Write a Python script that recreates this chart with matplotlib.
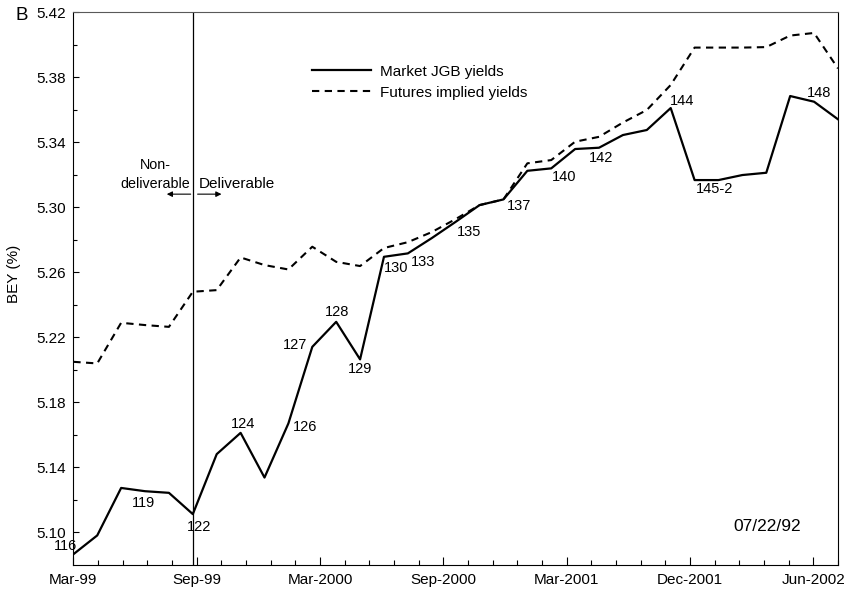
import numpy as np
import matplotlib.pyplot as plt

plt.rcParams['font.family'] = ['Liberation Sans', 'DejaVu Sans']

# BEY of each issue in the basket, ordered by maturity
market_jgb = [5.0866, 5.0982, 5.1274, 5.1254, 5.1244, 5.1113, 5.1482, 5.1613, 5.1338, 5.1671,
              5.2142, 5.2296, 5.2065, 5.2696, 5.2717, 5.2811, 5.2911, 5.3014, 5.3049, 5.3225,
              5.3240, 5.3359, 5.3367, 5.3445, 5.3476, 5.3611, 5.3168, 5.3168, 5.3199, 5.3213,
              5.3685, 5.3650, 5.3542]
futures_implied = [5.2050, 5.2040, 5.2290, 5.2276, 5.2265, 5.2481, 5.2491, 5.2692, 5.2645, 5.2618,
                   5.2758, 5.2665, 5.2639, 5.2750, 5.2786, 5.2848, 5.2928, 5.3014, 5.3049, 5.3271,
                   5.3291, 5.3404, 5.3434, 5.3522, 5.3599, 5.3753, 5.3983, 5.3983, 5.3983, 5.3986,
                   5.4057, 5.4073, 5.3855]

# issue numbers written next to some of the points
label_idx = [0, 3, 5, 7, 9, 10, 11, 12, 13, 14, 16, 18, 20, 22, 25, 26, 31]
bond_labels = ['116', '119', '122', '124', '126', '127', '128', '129', '130', '133',
               '135', '137', '140', '142', '144', '145-2', '148']
label_offsets = [(-8, 8), (-2, -12), (6, -13), (2, 9), (17, -4), (-17, 2), (1, 10), (0, -10),
                 (12, -11), (15, -9), (13, -10), (16, -7), (13, -9), (2, -10), (11, 7),
                 (20, -9), (5, 9)]

maturity_labels = ['Mar-99', 'Sep-99', 'Mar-2000', 'Sep-2000', 'Mar-2001', 'Dec-2001', 'Jun-2002']
first_deliverable = 5  # issue 122

x = np.arange(len(market_jgb))

fig = plt.figure(figsize=(8.46, 5.92), dpi=100)
ax = fig.add_axes([0.0867, 0.0456, 0.9038, 0.9336])

ax.plot(x, market_jgb, color='black', lw=1.6, label='Market JGB yields')
ax.plot(x, futures_implied, color='black', lw=1.5, ls=(0, (3.5, 2.6)), label='Futures implied yields')

for i, txt, off in zip(label_idx, bond_labels, label_offsets):
    ax.annotate(txt, (x[i], market_jgb[i]), xytext=off, textcoords='offset pixels',
                ha='center', va='center', fontsize=10.5)

# deliverable cut-off
ax.axvline(first_deliverable, color='black', lw=0.9)
ax.annotate('Non-\ndeliverable', (first_deliverable, 0.676), xycoords=('data', 'axes fraction'),
            xytext=(-3, 0), textcoords='offset pixels', ha='right', va='bottom',
            multialignment='center', fontsize=10.3, linespacing=1.45)
ax.annotate('Deliverable', (first_deliverable, 0.676), xycoords=('data', 'axes fraction'),
            xytext=(6, 0), textcoords='offset pixels', ha='left', va='bottom', fontsize=11)
arrow = dict(arrowstyle='-|>', color='black', lw=0.8, mutation_scale=8, shrinkA=0, shrinkB=0)
ax.annotate('', xy=(first_deliverable - 1.09, 0.671), xytext=(first_deliverable - 0.09, 0.671),
            xycoords=('data', 'axes fraction'), textcoords=('data', 'axes fraction'), arrowprops=arrow)
ax.annotate('', xy=(first_deliverable + 1.2, 0.671), xytext=(first_deliverable + 0.2, 0.671),
            xycoords=('data', 'axes fraction'), textcoords=('data', 'axes fraction'), arrowprops=arrow)

ax.text(0.908, 0.0705, '07/22/92', transform=ax.transAxes, ha='center', va='center', fontsize=12.5)

leg = ax.legend(loc='upper left', bbox_to_anchor=(0.312, 0.905), frameon=False, fontsize=11,
                handlelength=3.9, handletextpad=0.55, labelspacing=0.45,
                borderpad=0, borderaxespad=0)

# axes
ax.set_xlim(0, len(x) - 1)
ax.set_ylim(5.08, 5.42)
ticks = np.linspace(0, len(x) - 1, 32)
ax.set_xticks(ticks[::5])
ax.set_xticklabels(maturity_labels)
ax.set_xticks(ticks, minor=True)
ax.set_yticks(np.arange(5.10, 5.425, 0.04))
ax.set_yticklabels([f'{v:.2f}' for v in np.arange(5.10, 5.425, 0.04)])
ax.set_yticks(np.arange(5.12, 5.41, 0.04), minor=True)
ax.tick_params(which='both', direction='in', labelsize=11, width=0.8)
ax.tick_params(axis='x', which='major', length=6, pad=6)
ax.tick_params(axis='x', which='minor', length=3.5)
ax.tick_params(axis='y', which='major', length=4, pad=5)
ax.tick_params(axis='y', which='minor', length=3)
for s in ax.spines.values():
    s.set_linewidth(0.8)
ax.spines['top'].set_color('0.35')

ax.set_ylabel('BEY (%)', fontsize=11)
ax.yaxis.set_label_coords(-0.068, 0.526)
fig.text(0.018, 0.989, 'B', fontsize=13.5, ha='left', va='top')

fig.savefig('out.png', dpi=100)
